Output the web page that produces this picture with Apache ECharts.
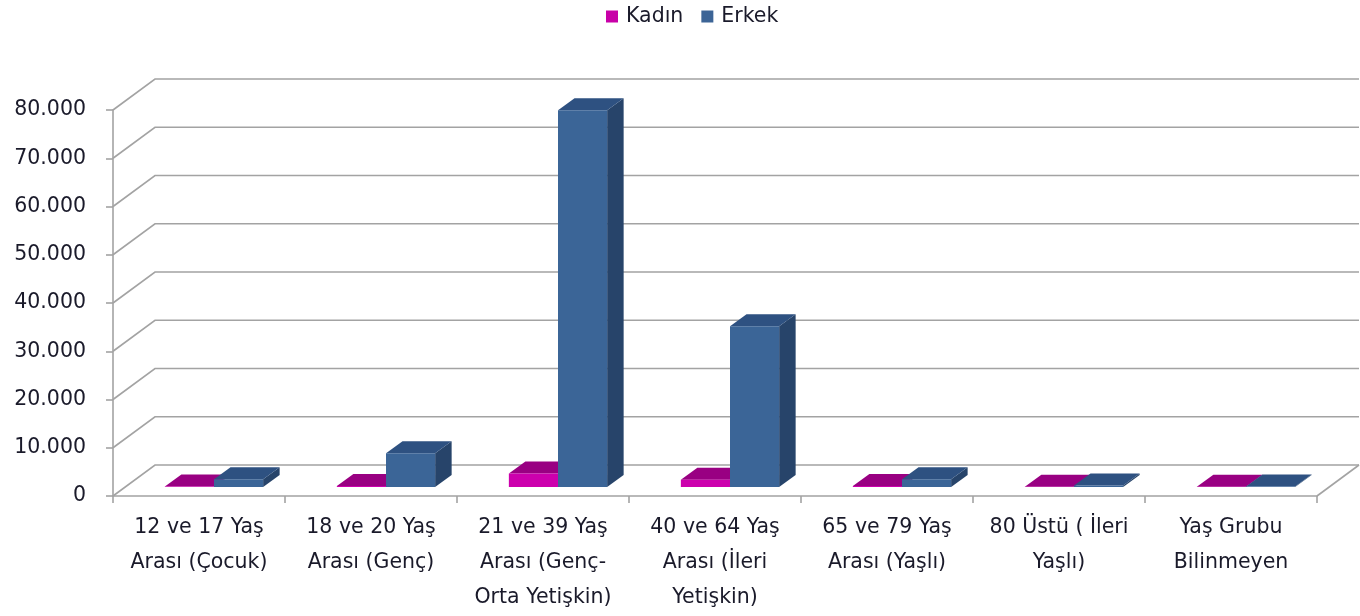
<!DOCTYPE html>
<html>
<head>
<meta charset="utf-8">
<script src="https://cdn.jsdelivr.net/npm/echarts@6/dist/echarts.min.js"></script>
<style>
html,body{margin:0;padding:0;background:#fff;}
#chart{width:1360px;height:616px;}
</style>
</head>
<body>
<div id="chart"></div>
<script>
const categories = [
  '12 ve 17 Yaş\nArası (Çocuk)',
  '18 ve 20 Yaş\nArası (Genç)',
  '21 ve 39 Yaş\nArası (Genç-\nOrta Yetişkin)',
  '40 ve 64 Yaş\nArası (İleri\nYetişkin)',
  '65 ve 79 Yaş\nArası (Yaşlı)',
  '80 Üstü ( İleri\nYaşlı)',
  'Yaş Grubu\nBilinmeyen'
];
const seriesNames = ['Kadın', 'Erkek'];
const kadin = [100, 200, 2800, 1500, 200, 50, 50];
const erkek = [1600, 7000, 78100, 33300, 1600, 300, 100];
const yTicks = [0, 10000, 20000, 30000, 40000, 50000, 60000, 70000, 80000];

const WALL = [42, -31];      // depth vector of the chart box
const FRONT = [15, -9];      // bar front face offset
const BACK = [31.5, -21];    // bar back face offset
const FONT = 'DejaVu Sans';

const palette = {
  'Kadın': {front: '#cc00ad', top: '#990082', side: '#7a0068', legend: '#c800a8'},
  'Erkek': {front: '#3b6597', top: '#2e5181', side: '#27446a', legend: '#3c6496'}
};

function fmt(v) {
  return String(v).replace(/\B(?=(\d{3})+(?!\d))/g, '.');
}

function barRender(order, col) {
  return function (params, api) {
    const i = api.value(0), v = api.value(1);
    const base = api.coord([i, 0]);
    const top = api.coord([i, v]);
    const band = api.size([1, 0])[0];
    const bw = band / 3.5;
    const xl = base[0] + (order === 0 ? -bw : 0) + FRONT[0];
    const xr = xl + bw;
    const yb = base[1] + FRONT[1];
    const yt = top[1] + FRONT[1];
    const dx = BACK[0] - FRONT[0], dy = BACK[1] - FRONT[1];
    return {
      type: 'group',
      children: [
        {type: 'polygon', shape: {points: [[xr, yb], [xr + dx, yb + dy], [xr + dx, yt + dy], [xr, yt]]}, style: {fill: col.side}},
        {type: 'polygon', shape: {points: [[xl, yt], [xr, yt], [xr + dx, yt + dy], [xl + dx, yt + dy]]}, style: {fill: col.top}},
        {type: 'rect', shape: {x: xl, y: yt, width: bw, height: Math.max(yb - yt, 0)}, style: {fill: col.front}}
      ]
    };
  };
}

function gridRender(params, api) {
  const v = api.value(1);
  const p = api.coord([0, v]);
  const cs = params.coordSys;
  const x0 = cs.x, x1 = cs.x + cs.width, y = p[1];
  const st = {stroke: '#a3a3a3', lineWidth: 1.6, fill: null};
  const children = [
    {type: 'polyline', shape: {points: [[x0, y], [x0 + WALL[0], y + WALL[1]], [x1 + WALL[0], y + WALL[1]]]}, style: st}
  ];
  if (v === 0) {
    children.push({type: 'line', shape: {x1: x1, y1: y, x2: x1 + WALL[0], y2: y + WALL[1]}, style: st});
  }
  return {type: 'group', children: children};
}

const chart = echarts.init(document.getElementById('chart'));
chart.setOption({
  animation: false,
  backgroundColor: '#ffffff',
  legend: {
    data: seriesNames,
    left: 606,
    top: 6,
    padding: 0,
    icon: 'rect',
    itemWidth: 12,
    itemHeight: 12,
    itemGap: 18,
    textStyle: {fontFamily: FONT, fontSize: 20.5, color: '#1a1a2a', padding: [0, 0, 0, 3]}
  },
  grid: {left: 113, right: 43, top: 110, bottom: 120, containLabel: false},
  xAxis: {
    type: 'category',
    data: categories,
    axisLine: {show: true, lineStyle: {color: '#a3a3a3', width: 1.6}},
    axisTick: {show: true, length: 7, lineStyle: {color: '#a3a3a3', width: 1.6}},
    axisLabel: {
      interval: 0, margin: 14, lineHeight: 35,
      fontFamily: FONT, fontSize: 20.5, color: '#1a1a2a'
    },
    splitLine: {show: false}
  },
  yAxis: {
    type: 'value',
    min: 0, max: 80000, interval: 10000,
    axisLine: {show: true, lineStyle: {color: '#a3a3a3', width: 1.6}},
    axisTick: {show: true, length: 7, lineStyle: {color: '#a3a3a3', width: 1.6}},
    axisLabel: {margin: 27, fontFamily: FONT, fontSize: 20.5, color: '#1a1a2a', formatter: fmt},
    splitLine: {show: false}
  },
  series: [
    {
      name: 'grid',
      type: 'custom',
      clip: false,
      z: 1,
      silent: true,
      renderItem: gridRender,
      data: yTicks.map(v => [0, v])
    },
    {
      name: seriesNames[0],
      type: 'custom',
      clip: false,
      z: 3,
      itemStyle: {color: palette['Kadın'].legend},
      renderItem: barRender(0, palette['Kadın']),
      data: kadin.map((v, i) => [i, v])
    },
    {
      name: seriesNames[1],
      type: 'custom',
      clip: false,
      z: 4,
      itemStyle: {color: palette['Erkek'].legend},
      renderItem: barRender(1, palette['Erkek']),
      data: erkek.map((v, i) => [i, v])
    }
  ]
});
</script>
</body>
</html>
